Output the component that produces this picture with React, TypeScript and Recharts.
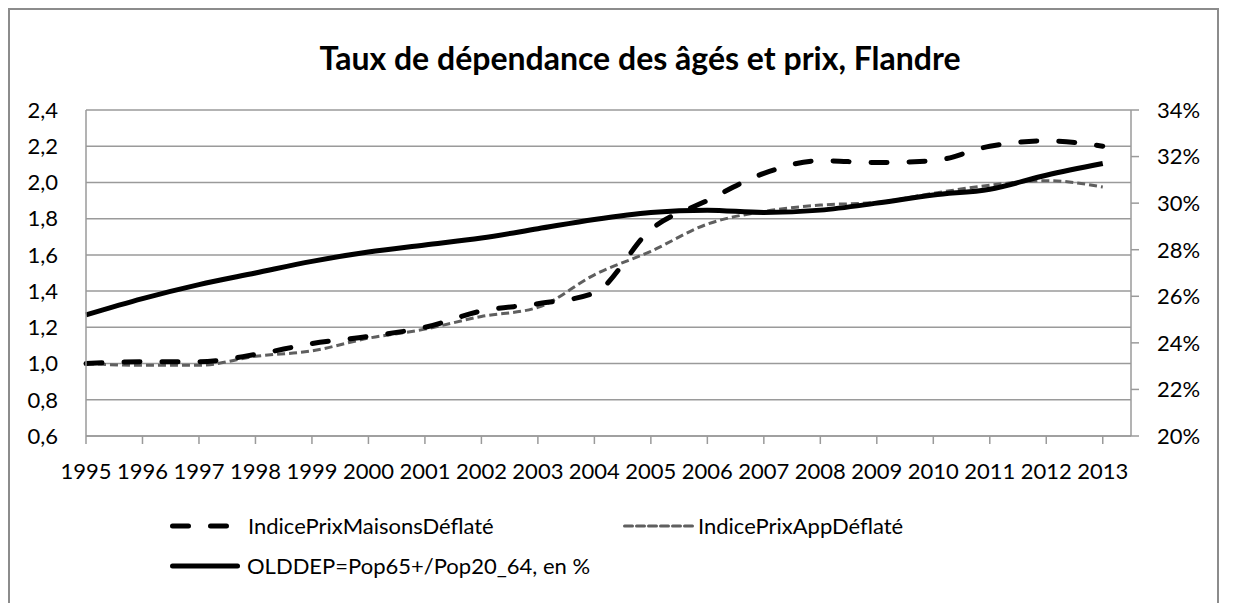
import React from 'react';
import { LineChart, Line, XAxis, YAxis, CartesianGrid, Legend } from 'recharts';

const years = [1995, 1996, 1997, 1998, 1999, 2000, 2001, 2002, 2003, 2004, 2005, 2006, 2007, 2008, 2009, 2010, 2011, 2012, 2013];
const maisons = [1.0, 1.01, 1.01, 1.05, 1.11, 1.15, 1.2, 1.29, 1.33, 1.39, 1.74, 1.9, 2.05, 2.12, 2.11, 2.12, 2.2, 2.23, 2.2];
const apps = [1.0, 0.99, 0.99, 1.04, 1.07, 1.14, 1.19, 1.26, 1.31, 1.49, 1.62, 1.77, 1.84, 1.875, 1.89, 1.94, 1.985, 2.01, 1.975];
const olddep = [25.2, 25.9, 26.5, 27.0, 27.5, 27.9, 28.2, 28.5, 28.9, 29.3, 29.6, 29.7, 29.6, 29.7, 30.0, 30.35, 30.6, 31.2, 31.7];

const leftTicks = [0.6, 0.8, 1.0, 1.2, 1.4, 1.6, 1.8, 2.0, 2.2, 2.4];
const rightTicks = [20, 22, 24, 26, 28, 30, 32, 34];

const data = years.map((y, i) => ({
  year: y,
  maisons: maisons[i],
  apps: apps[i],
  olddep: olddep[i],
}));

const FONT = 'Lato, "Open Sans", sans-serif';
const GRID = '#9a9a9a';

// legend drawn by hand, Excel puts it in two rows
const LegendBox = () => {
  const item = (left: number, top: number, w: number, stroke: string, sw: number, dash: string | undefined, label: string, textLeft: number) => (
    <>
      <svg style={{ position: 'absolute', left, top: top - 6 }} width={w} height={12}>
        <line x1={sw / 2} y1={6} x2={w - sw / 2} y2={6} stroke={stroke} strokeWidth={sw} strokeDasharray={dash} strokeLinecap="round" />
      </svg>
      <div style={{ position: 'absolute', left: textLeft, top: top - 14, fontSize: 22, lineHeight: '28px', whiteSpace: 'nowrap' }}>{label}</div>
    </>
  );
  return (
    <div style={{ position: 'relative', width: 1207, height: 115, fontFamily: FONT, color: '#000' }}>
      {item(160, 40, 60, '#000', 5, '16 22', 'IndicePrixMaisonsDéflaté', 238)}
      {item(613, 40, 72, '#5f5f5f', 3, '8 4', 'IndicePrixAppDéflaté', 688)}
      {item(160, 80, 70, '#000', 5, undefined, 'OLDDEP=Pop65+/Pop20_64, en %', 237)}
    </div>
  );
};

export default function App() {
  return (
    <div style={{ position: 'relative', width: 1211, height: 620, border: '2px solid #8c8c8c', boxSizing: 'border-box', background: '#fff' }}>
      <div style={{ position: 'absolute', left: 0, width: 1260, top: 28, textAlign: 'center', fontFamily: FONT, fontWeight: 700, fontSize: 32, lineHeight: '40px', color: '#000' }}>
        Taux de dépendance des âgés et prix, Flandre
      </div>
      <LineChart width={1207} height={591} data={data} margin={{ top: 100, right: 0, bottom: 0, left: 0 }}>
        <CartesianGrid yAxisId="left" vertical={false} stroke={GRID} strokeWidth={1.5} />
        <XAxis
          dataKey="year"
          type="number"
          domain={[1995, 2013.5]}
          ticks={years}
          interval={0}
          height={50}
          stroke={GRID}
          strokeWidth={1.5}
          tickSize={8}
          tickMargin={19}
          tick={{ fill: '#000', fontSize: 22, fontFamily: FONT }}
        />
        <YAxis
          yAxisId="left"
          orientation="left"
          width={76}
          domain={[0.6, 2.4]}
          ticks={leftTicks}
          interval={0}
          stroke={GRID}
          strokeWidth={1.5}
          tickLine={false}
          tickSize={0}
          tickMargin={28}
          tickFormatter={(v: number) => v.toFixed(1).replace('.', ',')}
          tick={{ fill: '#000', fontSize: 22, fontFamily: FONT }}
        />
        <YAxis
          yAxisId="right"
          orientation="right"
          width={86}
          domain={[20, 34]}
          ticks={rightTicks}
          interval={0}
          stroke={GRID}
          strokeWidth={1.5}
          tickSize={8}
          tickMargin={18}
          tickFormatter={(v: number) => `${v}%`}
          tick={{ fill: '#000', fontSize: 22, fontFamily: FONT, textAnchor: 'start' }}
        />
        <Legend verticalAlign="bottom" align="left" height={115} content={() => <LegendBox />} />
        <Line yAxisId="left" type="monotone" dataKey="apps" name="IndicePrixAppDéflaté" stroke="#5f5f5f" strokeWidth={3} strokeDasharray="8 4" dot={false} isAnimationActive={false} />
        <Line yAxisId="left" type="monotone" dataKey="maisons" name="IndicePrixMaisonsDéflaté" stroke="#000" strokeWidth={5} strokeDasharray="16 22" strokeLinecap="round" dot={false} isAnimationActive={false} />
        <Line yAxisId="right" type="monotone" dataKey="olddep" name="OLDDEP=Pop65+/Pop20_64, en %" stroke="#000" strokeWidth={5} dot={false} isAnimationActive={false} />
      </LineChart>
    </div>
  );
}
